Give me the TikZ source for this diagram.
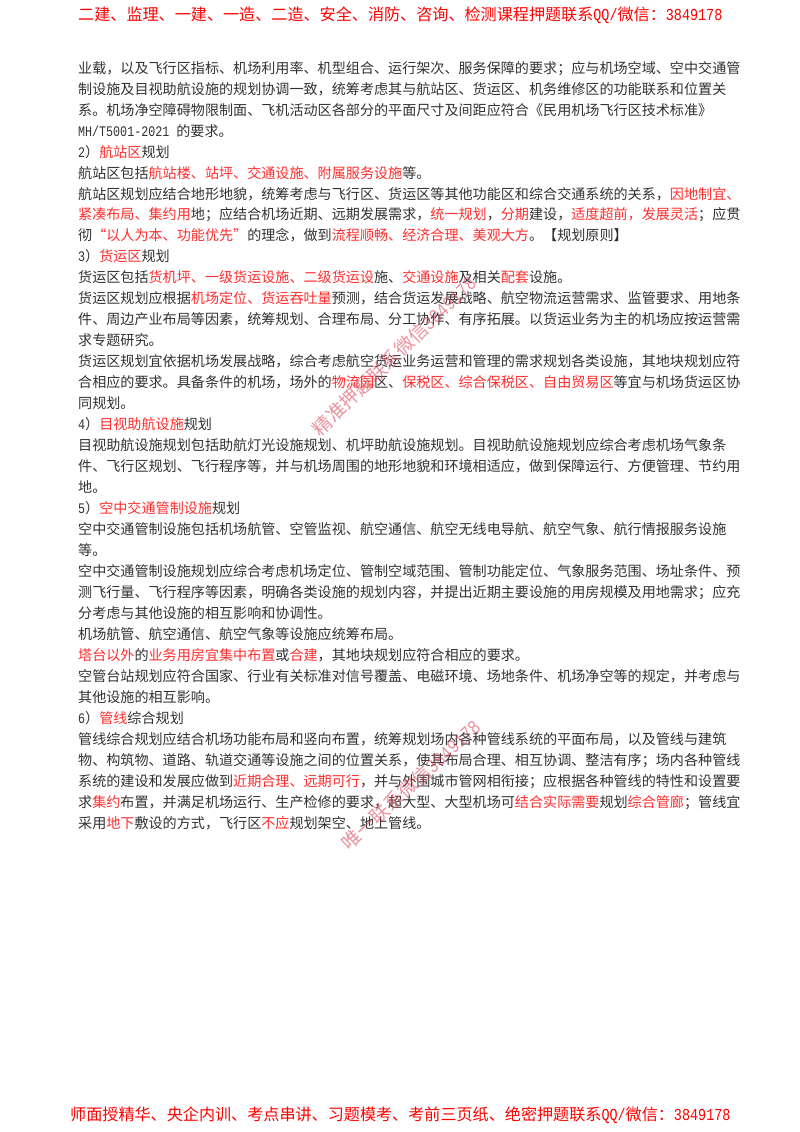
\documentclass[tikz,border=0pt]{standalone}
\usepackage{fontspec}
\setmainfont{Noto Sans CJK SC}
\setmonofont[FakeStretch=0.8]{Liberation Mono}
\definecolor{hot}{RGB}{255,45,45}
\definecolor{ink}{RGB}{50,50,50}
\definecolor{banner}{RGB}{255,0,0}
\definecolor{stamp}{RGB}{215,60,80}
\newcommand\hl[1]{\textcolor{hot}{#1}}
\newcommand\bodylat[1]{{\fontsize{14.6}{14.6}\ttfamily #1}}
\newcommand\banlat[1]{{\fontsize{16.8}{16.8}\ttfamily #1}}
\newcommand\stamplat[1]{{\fontsize{19.8}{19.8}\ttfamily #1}}
\tikzset{
  bodyline/.style={anchor=base west,inner sep=0pt,text=ink,font=\fontsize{14.09}{14.09}\selectfont},
  bannerline/.style={anchor=base west,inner sep=0pt,text=banner,font=\fontsize{16.1}{16.1}\selectfont},
  stampline/.style={anchor=center,inner sep=0pt,text=stamp,opacity=0.55,font=\fontsize{19}{19}\selectfont}
}
\newcommand\bl[3]{\pgfmathsetmacro\yy{-(68+(#1-1)*20.97+5.2)}\node[bodyline] (#2) at (78,\yy) {#3};}
\begin{document}
\begin{tikzpicture}[x=1pt,y=1pt]
\useasboundingbox (0,0) rectangle (800,-1132);
\fill[white] (0,0) rectangle (800,-1132);
\node[bannerline] (head) at (78,-20.5) {二建、监理、一建、一造、二造、安全、消防、咨询、检测课程押题联系\banlat{QQ/}微信：\banlat{3849178}};
\bl{1}{l1}{业载，以及飞行区指标、机场利用率、机型组合、运行架次、服务保障的要求；应与机场空域、空中交通管}
\bl{2}{l2}{制设施及目视助航设施的规划协调一致，统筹考虑其与航站区、货运区、机务维修区的功能联系和位置关}
\bl{3}{l3}{系。机场净空障碍物限制面、飞机活动区各部分的平面尺寸及间距应符合《民用机场飞行区技术标准》}
\bl{4}{l4}{\bodylat{MH/T5001-2021 }的要求。}
\bl{5}{l5}{\bodylat{2}）\hl{航站区}规划}
\bl{6}{l6}{航站区包括\hl{航站楼、站坪、交通设施、附属服务设施}等。}
\bl{7}{l7}{航站区规划应结合地形地貌，统筹考虑与飞行区、货运区等其他功能区和综合交通系统的关系，\hl{因地制宜、}}
\bl{8}{l8}{\hl{紧凑布局、集约用}地；应结合机场近期、远期发展需求，\hl{统一规划}，\hl{分期}建设，\hl{适度超前，发展灵活}；应贯}
\bl{9}{l9}{彻\hl{“以人为本、功能优先”}的理念，做到\hl{流程顺畅、经济合理、美观大方}。【规划原则】}
\bl{10}{l10}{\bodylat{3}）\hl{货运区}规划}
\bl{11}{l11}{货运区包括\hl{货机坪、一级货运设施、二级货运设}施、\hl{交通设施}及相关\hl{配套}设施。}
\bl{12}{l12}{货运区规划应根据\hl{机场定位、货运吞吐量}预测，结合货运发展战略、航空物流运营需求、监管要求、用地条}
\bl{13}{l13}{件、周边产业布局等因素，统筹规划、合理布局、分工协作、有序拓展。以货运业务为主的机场应按运营需}
\bl{14}{l14}{求专题研究。}
\bl{15}{l15}{货运区规划宜依据机场发展战略，综合考虑航空货运业务运营和管理的需求规划各类设施，其地块规划应符}
\bl{16}{l16}{合相应的要求。具备条件的机场，场外的\hl{物流园}区、\hl{保税区、综合保税区、自由贸易区}等宜与机场货运区协}
\bl{17}{l17}{同规划。}
\bl{18}{l18}{\bodylat{4}）\hl{目视助航设施}规划}
\bl{19}{l19}{目视助航设施规划包括助航灯光设施规划、机坪助航设施规划。目视助航设施规划应综合考虑机场气象条}
\bl{20}{l20}{件、飞行区规划、飞行程序等，并与机场周围的地形地貌和环境相适应，做到保障运行、方便管理、节约用}
\bl{21}{l21}{地。}
\bl{22}{l22}{\bodylat{5}）\hl{空中交通管制设施}规划}
\bl{23}{l23}{空中交通管制设施包括机场航管、空管监视、航空通信、航空无线电导航、航空气象、航行情报服务设施}
\bl{24}{l24}{等。}
\bl{25}{l25}{空中交通管制设施规划应综合考虑机场定位、管制空域范围、管制功能定位、气象服务范围、场址条件、预}
\bl{26}{l26}{测飞行量、飞行程序等因素，明确各类设施的规划内容，并提出近期主要设施的用房规模及用地需求；应充}
\bl{27}{l27}{分考虑与其他设施的相互影响和协调性。}
\bl{28}{l28}{机场航管、航空通信、航空气象等设施应统筹布局。}
\bl{29}{l29}{\hl{塔台以外}的\hl{业务用房宜集中布置}或\hl{合建}，其地块规划应符合相应的要求。}
\bl{30}{l30}{空管台站规划应符合国家、行业有关标准对信号覆盖、电磁环境、场地条件、机场净空等的规定，并考虑与}
\bl{31}{l31}{其他设施的相互影响。}
\bl{32}{l32}{\bodylat{6}）\hl{管线}综合规划}
\bl{33}{l33}{管线综合规划应结合机场功能布局和竖向布置，统筹规划场内各种管线系统的平面布局，以及管线与建筑}
\bl{34}{l34}{物、构筑物、道路、轨道交通等设施之间的位置关系，使其布局合理、相互协调、整洁有序；场内各种管线}
\bl{35}{l35}{系统的建设和发展应做到\hl{近期合理、远期可行}，并与外围城市管网相衔接；应根据各种管线的特性和设置要}
\bl{36}{l36}{求\hl{集约}布置，并满足机场运行、生产检修的要求，超大型、大型机场可\hl{结合实际需要}规划\hl{综合管廊}；管线宜}
\bl{37}{l37}{采用\hl{地下}敷设的方式，飞行区\hl{不应}规划架空、地上管线。}
\node[stampline,rotate=44] (mark1) at (394,-356) {精准押题联系微信\stamplat{3849178}};
\node[stampline,rotate=43] (mark2) at (411,-785) {唯一联系微信\stamplat{3849178}};
\node[bannerline] (foot) at (70,-1120.5) {师面授精华、央企内训、考点串讲、习题模考、考前三页纸、绝密押题联系\banlat{QQ/}微信：\banlat{3849178}};
\end{tikzpicture}
\end{document}
